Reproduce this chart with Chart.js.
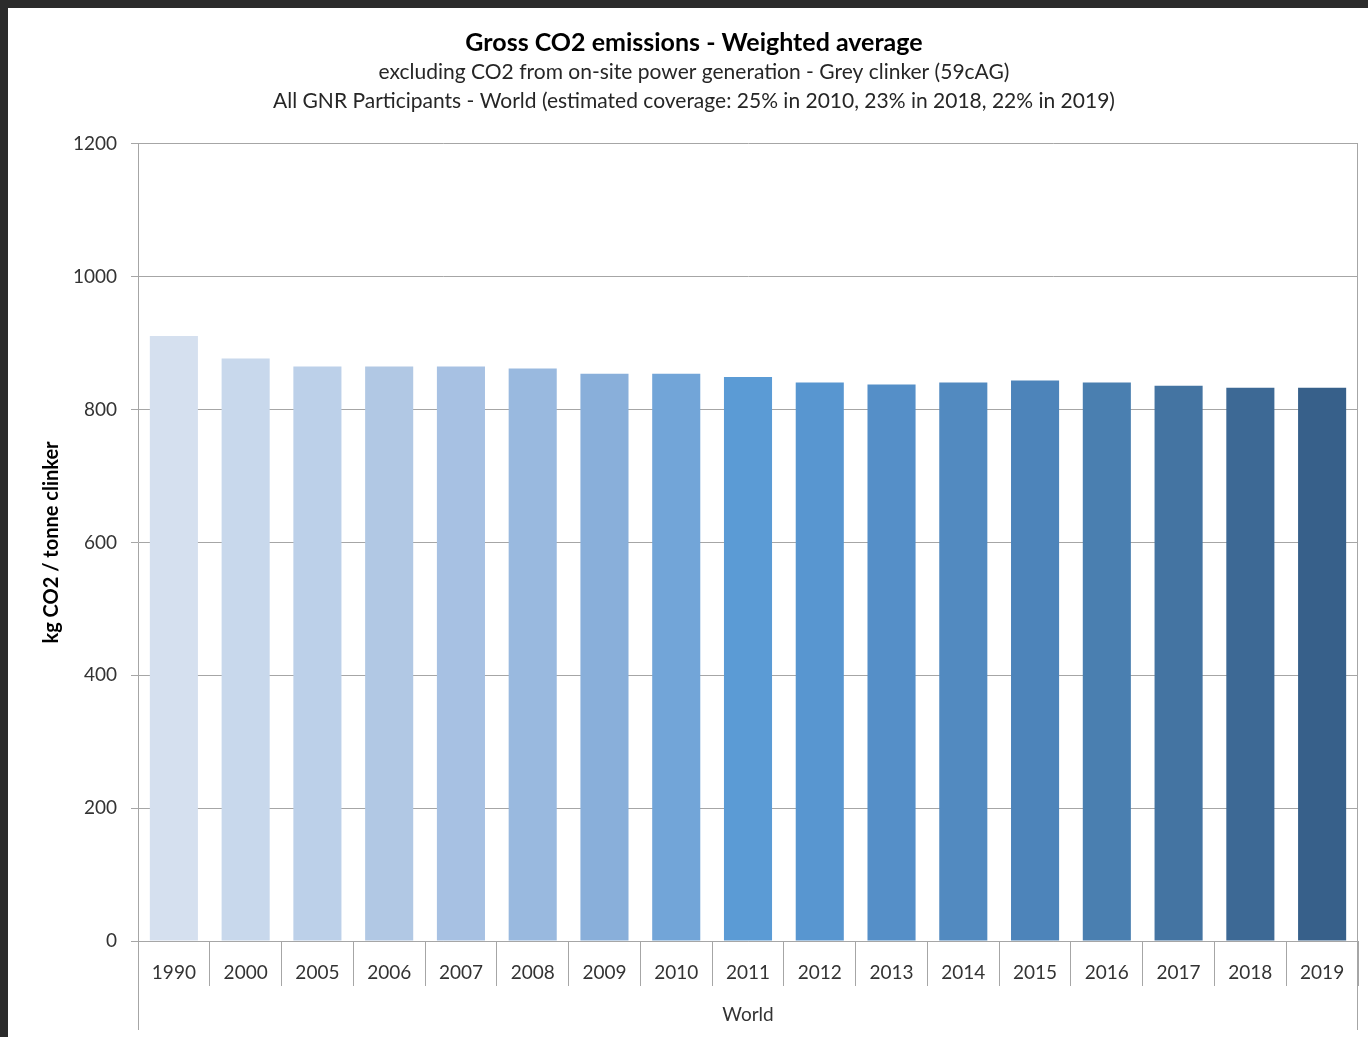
<!DOCTYPE html>
<html>
<head>
<meta charset="utf-8">
<script src="https://cdn.jsdelivr.net/npm/chart.js@4"></script>
<style>
  body { margin: 0; background: #2b2b2b; }
  #frame { position: absolute; left: 8px; top: 8px; width: 1360px; height: 1029px; background: #ffffff; }
</style>
</head>
<body>
<div id="frame"><canvas id="co2" width="1360" height="1029"></canvas></div>
<script>
// values
const years = [ '1990', '2000', '2005', '2006', '2007', '2008', '2009', '2010', '2011',
                '2012', '2013', '2014', '2015', '2016', '2017', '2018', '2019' ];
const grossCO2 = [ 911, 877, 865, 865, 865, 862, 854, 854, 849,
                   841, 838, 841, 844, 841, 836, 833, 833 ];
const barColours = [ '#d5e0ef', '#c8d8ec', '#bcd0e9', '#b1c8e4', '#a7c1e3', '#99b9df', '#89afda',
                     '#72a5d8', '#5b9bd5', '#5896d0', '#558fc8', '#528ac0', '#4d84ba', '#4a7fb0',
                     '#4474a2', '#3d6995', '#37608a' ];
const yTicks = [ 0, 200, 400, 600, 800, 1000, 1200 ];

const titleText = 'Gross CO2 emissions - Weighted average';
const subtitleLines = [
    'excluding CO2 from on-site power generation - Grey clinker (59cAG)',
    'All GNR Participants - World (estimated coverage: 25% in 2010, 23% in 2018, 22% in 2019)'
];
const yTitle = 'kg CO2 / tonne clinker';
const xGroup = 'World';

const lineGrey = '#a6a6a6';
const textGrey = '#333333';

Chart.defaults.font.family = 'Lato, "Open Sans", sans-serif';
Chart.defaults.color = textGrey;

// left axis carries on under the year labels, plot edge on the right too
const frameLines = {
    id: 'frameLines',
    afterDraw( chart )
    {
        const ctx = chart.ctx;
        const area = chart.chartArea;
        const x = chart.scales.x;
        ctx.save();
        ctx.strokeStyle = lineGrey;
        ctx.lineWidth = 1;
        ctx.beginPath();
        ctx.moveTo( Math.round( x.left ) + 0.5, area.bottom );
        ctx.lineTo( Math.round( x.left ) + 0.5, x.bottom - 7 );
        ctx.moveTo( Math.round( x.right ) - 0.5, area.top );
        ctx.lineTo( Math.round( x.right ) - 0.5, x.bottom - 7 );
        ctx.stroke();
        ctx.restore();
    }
};

new Chart( document.getElementById( 'co2' ), {
    type: 'bar',
    data: {
        labels: years,
        datasets: [{
            data: grossCO2,
            backgroundColor: barColours,
            borderWidth: 0,
            barPercentage: 0.67,
            categoryPercentage: 1
        }]
    },
    options: {
        responsive: false,
        animation: false,
        // left padding keeps the titles centred a bit right, as in the original
        layout: { padding: { left: 22, right: 10, top: 0, bottom: 0 } },
        plugins: {
            legend: { display: false },
            tooltip: { enabled: false },
            title: {
                display: true,
                text: titleText,
                color: '#000000',
                font: { size: 25, weight: 'bold', lineHeight: 1.2 },
                padding: { top: 20, bottom: 0 }
            },
            subtitle: {
                display: true,
                text: subtitleLines,
                color: '#262626',
                font: { size: 21, lineHeight: 1.38 },
                padding: { top: 0, bottom: 28 }
            }
        },
        scales: {
            x: {
                grid: {
                    offset: true,
                    drawOnChartArea: false,
                    color: lineGrey,
                    tickLength: 45
                },
                border: { display: true, color: lineGrey },
                ticks: {
                    padding: -25,
                    maxRotation: 0,
                    autoSkip: false,
                    font: { size: 19 }
                },
                title: {
                    display: true,
                    text: xGroup,
                    font: { size: 19 },
                    padding: { top: 0, bottom: 11 }
                },
                afterFit( scale ) { scale.height = 96; }
            },
            y: {
                min: 0,
                max: 1200,
                afterBuildTicks( scale ) { scale.ticks = yTicks.map( v => ({ value: v }) ); },
                grid: { color: lineGrey, tickLength: 7 },
                border: { display: true, color: lineGrey },
                ticks: {
                    padding: 14,
                    font: { size: 19 },
                    callback: v => String( v )
                },
                title: {
                    display: true,
                    text: yTitle,
                    color: '#000000',
                    font: { size: 20, weight: 'bold', lineHeight: 1.2 },
                    padding: { top: 10, bottom: 0 }
                },
                afterFit( scale ) { scale.width = 108; }
            }
        }
    },
    plugins: [ frameLines ]
});
</script>
</body>
</html>
